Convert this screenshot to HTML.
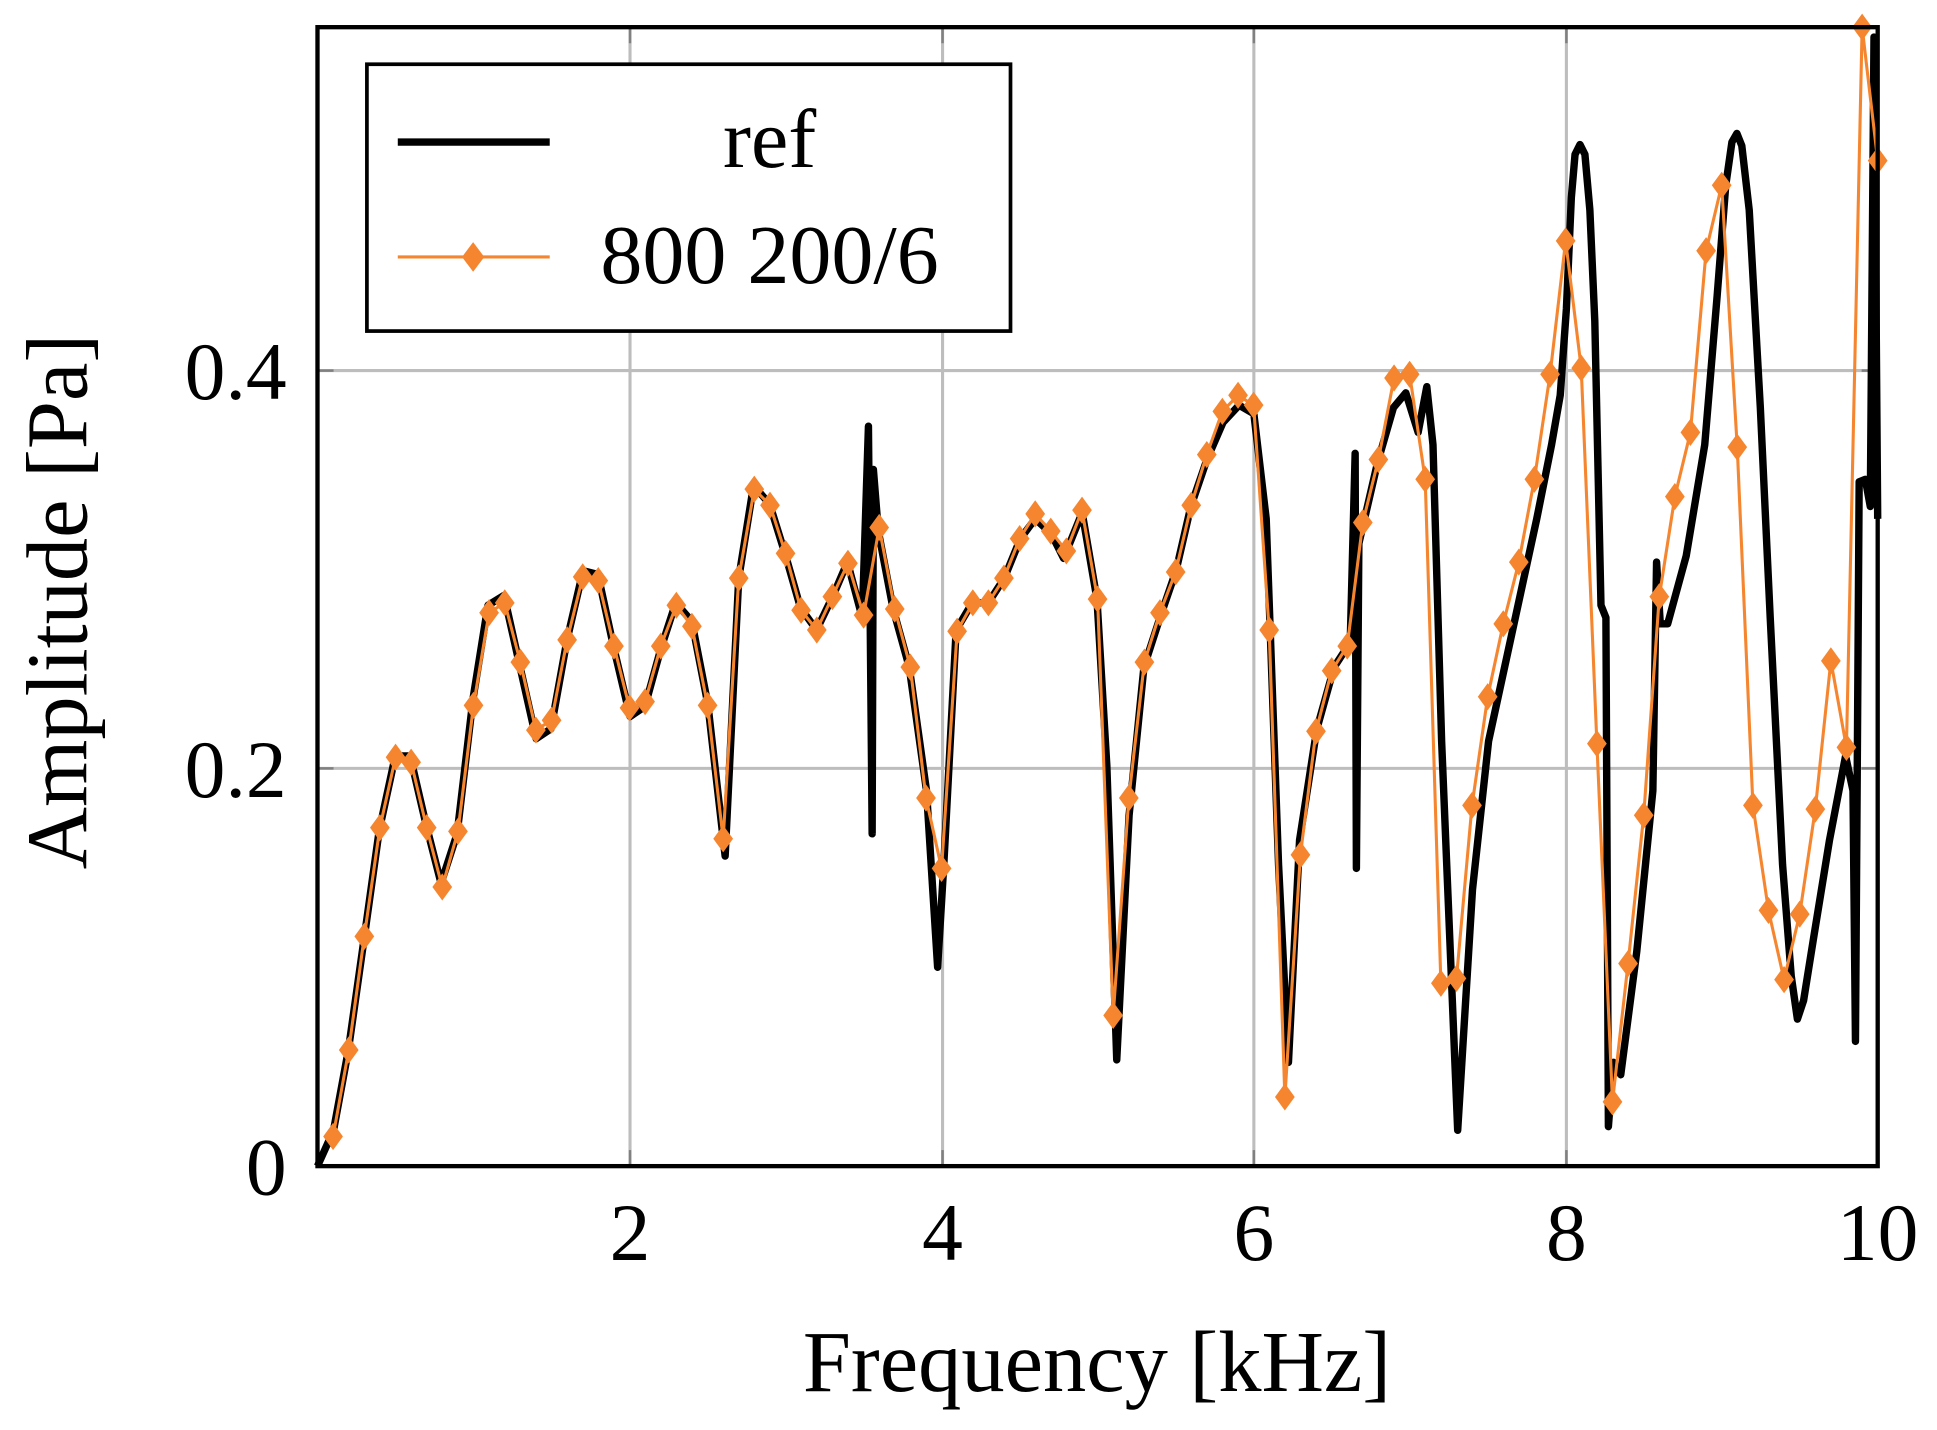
<!DOCTYPE html>
<html><head><meta charset="utf-8"><style>html,body{margin:0;padding:0;background:#fff}svg{display:block}</style></head>
<body>
<svg width="1937" height="1430" viewBox="0 0 1568 1157.6" xmlns="http://www.w3.org/2000/svg" font-family="'Liberation Serif', serif">
<rect x="0" y="0" width="1568" height="1157.6" fill="#fff"/>
<g stroke="#bdbdbd" stroke-width="2.5">
<line x1="510" y1="22" x2="510" y2="944"/><line x1="763" y1="22" x2="763" y2="944"/><line x1="1015" y1="22" x2="1015" y2="944"/><line x1="1268" y1="22" x2="1268" y2="944"/>
<line x1="257" y1="300" x2="1520" y2="300"/><line x1="257" y1="622" x2="1520" y2="622"/>
</g>
<g stroke="#808080" stroke-width="2">
<line x1="510" y1="22" x2="510" y2="35"/><line x1="763" y1="22" x2="763" y2="35"/><line x1="1015" y1="22" x2="1015" y2="35"/><line x1="1268" y1="22" x2="1268" y2="35"/>
<line x1="510" y1="944" x2="510" y2="931"/><line x1="763" y1="944" x2="763" y2="931"/><line x1="1015" y1="944" x2="1015" y2="931"/><line x1="1268" y1="944" x2="1268" y2="931"/>
<line x1="257" y1="300" x2="270" y2="300"/><line x1="257" y1="622" x2="270" y2="622"/>
<line x1="1520" y1="300" x2="1507" y2="300"/><line x1="1520" y1="622" x2="1507" y2="622"/>
</g>
<polyline fill="none" stroke="#000" stroke-width="6" stroke-linejoin="round" points="257,944 270,915 282,850 295,758 307,672 320,612 332,612 345,668 357,715 370,675 383,565 395,490 408,482 421,540 434,598 446,590 459,518 472,462 484,465 497,525 510,580 522,572 535,525 547,488 560,503 573,570 587,693 598,468 610,393 623,408 636,450 648,492 661,510 674,483 686,455 698,500 703,345 706,675 707,380 711,430 723,493 736,540 750,640 759,783 764,700 774,510 787,488 800,488 813,468 826,436 838,420 851,432 861,452 876,415 888,485 896,620 904,858 914,660 926,540 939,500 952,462 964,410 977,372 990,342 1003,328 1015,335 1025,420 1035,700 1043,860 1052,680 1066,590 1080,540 1093,520 1097,367 1098,703 1100,440 1115,375 1128,330 1138,318 1148,350 1155,313 1160,360 1167,600 1180,915 1192,720 1205,600 1218,540 1231,480 1244,420 1256,360 1263,320 1268,250 1272,160 1275,125 1279,117 1283,125 1287,170 1291,260 1296,490 1300,500 1302,912 1306,860 1312,870 1325,770 1338,640 1341,455 1344,505 1350,505 1365,450 1380,360 1390,240 1397,150 1402,115 1406,108 1410,118 1416,170 1425,330 1433,500 1443,700 1450,790 1455,825 1460,810 1468,760 1481,680 1494,612 1500,640 1502,843 1505,390 1510,388 1514,410 1517,30 1520,420"/>
<polyline fill="none" stroke="#f5862f" stroke-width="2.5" stroke-linejoin="round" points="269.6,920 282.3,850 294.9,758 307.5,670 320.2,613 332.8,617 345.4,670 358,718 370.7,673 383.3,571 395.9,496 408.6,488 421.2,536 433.8,591 446.5,583 459.1,518 471.7,467 484.3,470 497,523 509.6,573 522.2,568 534.9,523 547.5,490 560.1,507 572.8,571 585.4,679 598,468 610.6,396 623.3,409 635.9,448 648.5,494 661.2,510 673.8,483 686.4,456 699.1,498 711.7,427 724.3,493 736.9,540 749.6,646 762.2,703 774.8,511 787.5,488 800.1,488 812.7,468 825.4,436 838,416 850.6,430 863.2,446 875.9,413 888.5,485 901.1,822 913.8,646 926.4,536 939,496 951.7,463 964.3,409 976.9,368 989.5,333 1002.2,320 1014.8,328 1027.4,510 1040.1,888 1052.7,692 1065.3,592 1078,543 1090.6,523 1103.2,423 1115.8,372 1128.5,306 1141.1,303 1153.7,388 1166.4,796 1179,792 1191.6,652 1204.3,564 1216.9,505 1229.5,455 1242.1,388 1254.8,303 1267.4,195 1280,298 1292.7,602 1305.3,892 1317.9,780 1330.6,660 1343.2,483 1355.8,402 1368.4,350 1381.1,203 1393.7,150 1406.3,362 1419,652 1431.6,737 1444.2,793 1456.9,740 1469.5,655 1482.1,535 1494.7,605 1507.4,22 1520,130"/>
<path fill="#f5862f" d="M269.6,909l8,11-8,11-8-11zM282.3,839l8,11-8,11-8-11zM294.9,747l8,11-8,11-8-11zM307.5,659l8,11-8,11-8-11zM320.2,602l8,11-8,11-8-11zM332.8,606l8,11-8,11-8-11zM345.4,659l8,11-8,11-8-11zM358,707l8,11-8,11-8-11zM370.7,662l8,11-8,11-8-11zM383.3,560l8,11-8,11-8-11zM395.9,485l8,11-8,11-8-11zM408.6,477l8,11-8,11-8-11zM421.2,525l8,11-8,11-8-11zM433.8,580l8,11-8,11-8-11zM446.5,572l8,11-8,11-8-11zM459.1,507l8,11-8,11-8-11zM471.7,456l8,11-8,11-8-11zM484.3,459l8,11-8,11-8-11zM497,512l8,11-8,11-8-11zM509.6,562l8,11-8,11-8-11zM522.2,557l8,11-8,11-8-11zM534.9,512l8,11-8,11-8-11zM547.5,479l8,11-8,11-8-11zM560.1,496l8,11-8,11-8-11zM572.8,560l8,11-8,11-8-11zM585.4,668l8,11-8,11-8-11zM598,457l8,11-8,11-8-11zM610.6,385l8,11-8,11-8-11zM623.3,398l8,11-8,11-8-11zM635.9,437l8,11-8,11-8-11zM648.5,483l8,11-8,11-8-11zM661.2,499l8,11-8,11-8-11zM673.8,472l8,11-8,11-8-11zM686.4,445l8,11-8,11-8-11zM699.1,487l8,11-8,11-8-11zM711.7,416l8,11-8,11-8-11zM724.3,482l8,11-8,11-8-11zM736.9,529l8,11-8,11-8-11zM749.6,635l8,11-8,11-8-11zM762.2,692l8,11-8,11-8-11zM774.8,500l8,11-8,11-8-11zM787.5,477l8,11-8,11-8-11zM800.1,477l8,11-8,11-8-11zM812.7,457l8,11-8,11-8-11zM825.4,425l8,11-8,11-8-11zM838,405l8,11-8,11-8-11zM850.6,419l8,11-8,11-8-11zM863.2,435l8,11-8,11-8-11zM875.9,402l8,11-8,11-8-11zM888.5,474l8,11-8,11-8-11zM901.1,811l8,11-8,11-8-11zM913.8,635l8,11-8,11-8-11zM926.4,525l8,11-8,11-8-11zM939,485l8,11-8,11-8-11zM951.7,452l8,11-8,11-8-11zM964.3,398l8,11-8,11-8-11zM976.9,357l8,11-8,11-8-11zM989.5,322l8,11-8,11-8-11zM1002.2,309l8,11-8,11-8-11zM1014.8,317l8,11-8,11-8-11zM1027.4,499l8,11-8,11-8-11zM1040.1,877l8,11-8,11-8-11zM1052.7,681l8,11-8,11-8-11zM1065.3,581l8,11-8,11-8-11zM1078,532l8,11-8,11-8-11zM1090.6,512l8,11-8,11-8-11zM1103.2,412l8,11-8,11-8-11zM1115.8,361l8,11-8,11-8-11zM1128.5,295l8,11-8,11-8-11zM1141.1,292l8,11-8,11-8-11zM1153.7,377l8,11-8,11-8-11zM1166.4,785l8,11-8,11-8-11zM1179,781l8,11-8,11-8-11zM1191.6,641l8,11-8,11-8-11zM1204.3,553l8,11-8,11-8-11zM1216.9,494l8,11-8,11-8-11zM1229.5,444l8,11-8,11-8-11zM1242.1,377l8,11-8,11-8-11zM1254.8,292l8,11-8,11-8-11zM1267.4,184l8,11-8,11-8-11zM1280,287l8,11-8,11-8-11zM1292.7,591l8,11-8,11-8-11zM1305.3,881l8,11-8,11-8-11zM1317.9,769l8,11-8,11-8-11zM1330.6,649l8,11-8,11-8-11zM1343.2,472l8,11-8,11-8-11zM1355.8,391l8,11-8,11-8-11zM1368.4,339l8,11-8,11-8-11zM1381.1,192l8,11-8,11-8-11zM1393.7,139l8,11-8,11-8-11zM1406.3,351l8,11-8,11-8-11zM1419,641l8,11-8,11-8-11zM1431.6,726l8,11-8,11-8-11zM1444.2,782l8,11-8,11-8-11zM1456.9,729l8,11-8,11-8-11zM1469.5,644l8,11-8,11-8-11zM1482.1,524l8,11-8,11-8-11zM1494.7,594l8,11-8,11-8-11zM1507.4,11l8,11-8,11-8-11zM1520,119l8,11-8,11-8-11z"/>
<rect x="257" y="22" width="1263" height="922" fill="none" stroke="#000" stroke-width="3.5"/>
<rect x="297" y="52" width="521" height="216" fill="#fff" stroke="#000" stroke-width="3"/>
<line x1="322" y1="115" x2="445" y2="115" stroke="#000" stroke-width="6"/>
<line x1="322" y1="208" x2="445" y2="208" stroke="#f5862f" stroke-width="2.5"/>
<path fill="#f5862f" d="M383,196l9,12-9,12-9-12z"/>
<g font-size="68" fill="#000">
<text x="623" y="135" text-anchor="middle">ref</text>
<text x="623" y="229" text-anchor="middle">800 200/6</text>
</g>
<g font-size="66" fill="#000" text-anchor="middle">
<text x="510" y="1020">2</text><text x="763" y="1020">4</text><text x="1015" y="1020">6</text><text x="1268" y="1020">8</text><text x="1520" y="1020">10</text>
</g>
<g font-size="66" fill="#000" text-anchor="end">
<text x="232" y="967">0</text><text x="232" y="645">0.2</text><text x="232" y="323">0.4</text>
</g>
<text x="888" y="1126" font-size="70" text-anchor="middle">Frequency [kHz]</text>
<text transform="translate(70,487) rotate(-90)" font-size="70" text-anchor="middle">Amplitude [Pa]</text>
</svg>
</body></html>
